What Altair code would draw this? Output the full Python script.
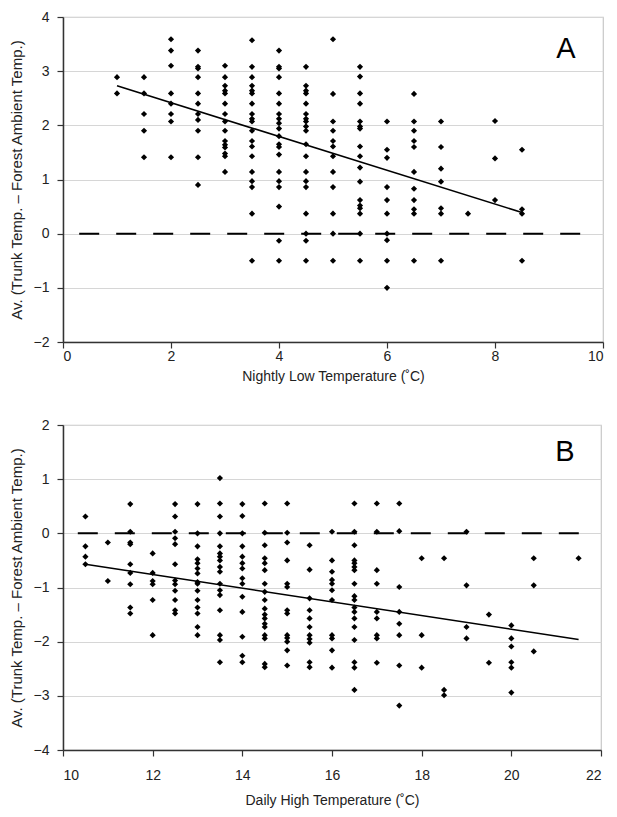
import altair as alt
import pandas as pd

# ---------------- Panel A data (x = nightly low temp, y = trunk - ambient) ----------------
a_cols = [1.0, 1.5, 2.0, 2.5, 3.0, 3.5, 4.0, 4.5, 5.0, 5.5, 6.0, 6.5, 7.0, 7.5, 8.0, 8.5]
a_vals = [
    [2.89, 2.59],
    [2.89, 2.59, 2.21, 1.9, 1.41],
    [3.59, 3.38, 3.1, 2.59, 2.4, 2.21, 2.07, 1.41],
    [3.38, 3.08, 3.05, 2.89, 2.59, 2.4, 2.21, 2.1, 1.9, 1.41, 0.9],
    [3.1, 2.89, 2.73, 2.64, 2.59, 2.4, 2.21, 2.07, 1.9, 1.71, 1.64, 1.59, 1.48, 1.43, 1.14],
    [3.57, 3.08, 2.89, 2.73, 2.64, 2.59, 2.4, 2.21, 2.12, 2.07, 1.9, 1.71, 1.61, 1.43, 1.14, 0.97, 0.86, 0.37, -0.5],
    [3.38, 3.08, 3.05, 2.89, 2.59, 2.4, 2.21, 2.12, 2.04, 1.94, 1.8, 1.65, 1.6, 1.46, 1.14, 0.97, 0.86, 0.5, -0.13, -0.5],
    [3.08, 2.73, 2.64, 2.59, 2.4, 2.21, 2.12, 2.07, 1.98, 1.9, 1.65, 1.43, 1.14, 0.97, 0.86, 0.37, 0.0, -0.13, -0.5],
    [3.59, 2.58, 2.07, 1.9, 1.71, 1.61, 1.43, 1.14, 0.86, 0.37, 0.0, -0.5],
    [3.08, 2.9, 2.59, 2.4, 2.07, 1.98, 1.94, 1.61, 1.43, 1.22, 0.96, 0.62, 0.52, 0.47, 0.37, 0.0, -0.5],
    [2.07, 1.55, 1.4, 0.86, 0.62, 0.37, 0.0, -0.12, -0.5, -1.0],
    [2.58, 2.07, 1.9, 1.71, 1.6, 1.14, 0.83, 0.62, 0.45, 0.37, -0.5],
    [2.07, 1.6, 1.2, 0.96, 0.47, 0.37, -0.5],
    [0.37],
    [2.08, 1.39, 0.62],
    [1.55, 0.45, 0.37, -0.5],
]
a_trend_x = [1.0, 8.5]
a_trend_y = [2.73, 0.39]
a_zero_x = [0.3, 9.65]
a_zero_y = [0.0, 0.0]

# ---------------- Panel B data (x = daily high temp) ----------------
b_cols = [10.5, 11.0, 11.5, 12.0, 12.5, 13.0, 13.5, 14.0, 14.5, 15.0, 15.5, 16.0, 16.5,
          17.0, 17.5, 18.0, 18.5, 19.0, 19.5, 20.0, 20.5, 21.5]
b_vals = [
    [0.31, -0.24, -0.43, -0.57],
    [-0.17, -0.88],
    [0.54, 0.03, -0.17, -0.2, -0.57, -0.73, -0.94, -1.37, -1.48],
    [-0.37, -0.73, -0.88, -0.94, -1.23, -1.88],
    [0.54, 0.31, 0.03, -0.09, -0.2, -0.57, -0.87, -0.94, -1.06, -1.23, -1.42, -1.48],
    [0.54, 0.0, -0.24, -0.48, -0.55, -0.65, -0.74, -0.9, -0.93, -1.06, -1.23, -1.37, -1.48, -1.73, -1.88],
    [1.02, 0.55, 0.31, 0.0, -0.24, -0.37, -0.43, -0.5, -0.62, -0.71, -0.93, -1.05, -1.14, -1.42, -1.88, -1.97, -2.38],
    [0.54, 0.32, 0.0, -0.24, -0.43, -0.55, -0.65, -0.83, -0.93, -1.17, -1.45, -1.91, -2.26, -2.38],
    [0.55, 0.01, -0.22, -0.46, -0.55, -0.68, -0.93, -1.08, -1.23, -1.39, -1.5, -1.57, -1.67, -1.73, -1.88, -1.94, -2.41, -2.47],
    [0.55, 0.01, -0.17, -0.5, -0.93, -0.99, -1.42, -1.48, -1.88, -1.93, -2.0, -2.16, -2.44],
    [-0.22, -0.67, -1.2, -1.42, -1.57, -1.73, -1.88, -1.95, -2.02, -2.38, -2.47],
    [0.03, -0.5, -0.71, -0.86, -0.93, -1.05, -1.23, -1.88, -1.94, -2.16, -2.48],
    [0.55, 0.03, -0.22, -0.5, -0.55, -0.62, -0.68, -0.93, -1.16, -1.23, -1.37, -1.45, -1.57, -1.73, -1.97, -2.38, -2.48, -2.89],
    [0.55, 0.03, -0.68, -0.93, -1.45, -1.57, -1.88, -1.94, -2.39],
    [0.55, 0.04, -0.99, -1.45, -1.67, -1.88, -2.44, -3.18],
    [-0.46, -1.88, -2.48],
    [-0.46, -2.89, -2.99],
    [0.03, -0.96, -1.73, -1.94],
    [-1.5, -2.39],
    [-1.7, -1.94, -2.09, -2.38, -2.48, -2.94],
    [-0.46, -0.96, -2.18],
    [-0.46],
]
b_trend_x = [10.5, 21.5]
b_trend_y = [-0.57, -1.96]
b_zero_x = [10.33, 21.63]
b_zero_y = [0.0, 0.0]

y_title = "Av. (Trunk Temp. \u2013 Forest Ambient Temp.)"
a_x_title = "Nightly Low Temperature (\u02daC)"
b_x_title = "Daily High Temperature (\u02daC)"
a_x_ticks = [0, 2, 4, 6, 8, 10]
a_y_ticks = [-2, -1, 0, 1, 2, 3, 4]
b_x_ticks = [10, 12, 14, 16, 18, 20, 22]
b_y_ticks = [-4, -3, -2, -1, 0, 1, 2]

FONT = "Liberation Sans"


def expand(cols, vals):
    xs, ys = [], []
    for c, vs in zip(cols, vals):
        for v in vs:
            xs.append(c)
            ys.append(v)
    return pd.DataFrame({"x": xs, "y": ys})


def panel(cols, vals, tx, ty, zx, zy, xdom, ydom, xticks, yticks, xtitle, letter,
          w, h, lx, ly, xlabpad, xtitlepad):
    pts = expand(cols, vals)
    xs = alt.Scale(domain=xdom, nice=False, zero=False)
    ys = alt.Scale(domain=ydom, nice=False, zero=False)
    xaxis = alt.Axis(values=xticks, grid=False, title=xtitle, format="d",
                     labelPadding=xlabpad, titlePadding=xtitlepad)
    yaxis = alt.Axis(values=yticks, grid=True, title=y_title, format="d")
    points = alt.Chart(pts).mark_point(shape="diamond", filled=True, color="black",
                                       size=38, opacity=1).encode(
        x=alt.X("x:Q", scale=xs, axis=xaxis),
        y=alt.Y("y:Q", scale=ys, axis=yaxis),
    )
    zero = alt.Chart(pd.DataFrame({"x": zx, "y": zy})).mark_line(
        color="black", strokeWidth=2, strokeDash=[20, 17]).encode(
        x=alt.X("x:Q", scale=xs), y=alt.Y("y:Q", scale=ys))
    trend = alt.Chart(pd.DataFrame({"x": tx, "y": ty})).mark_line(
        color="black", strokeWidth=1.6).encode(
        x=alt.X("x:Q", scale=xs), y=alt.Y("y:Q", scale=ys))
    label = alt.Chart(pd.DataFrame({"t": [letter]})).mark_text(
        font=FONT, fontSize=29, color="black", align="center", baseline="alphabetic").encode(
        text="t:N", x=alt.value(lx), y=alt.value(ly))
    return alt.layer(zero, trend, points, label).properties(width=w, height=h)


pa = panel(a_cols, a_vals, a_trend_x, a_trend_y, a_zero_x, a_zero_y, [0, 10], [-2, 4],
           a_x_ticks, a_y_ticks, a_x_title, "A", 540, 325, 503, 41, 1, 6)
pb = panel(b_cols, b_vals, b_trend_x, b_trend_y, b_zero_x, b_zero_y, [10, 22], [-4, 2],
           b_x_ticks, b_y_ticks, b_x_title, "B", 538, 325, 502, 36, 12, 11)

chart = alt.vconcat(pa, pb, spacing=33).properties(
    padding={"left": 0, "top": 1, "right": 4, "bottom": 4},
    background="white",
).configure_view(
    stroke="#c8c8c8", strokeWidth=1.2
).configure_axis(
    labelFont=FONT, titleFont=FONT, labelFontSize=14, titleFontSize=14,
    labelColor="#222222", titleColor="#222222", titleFontWeight="normal",
    domainColor="#333333", domainWidth=1.5, tickColor="#333333", tickWidth=1.2,
    tickSize=6, gridColor="#d6d6d6", gridWidth=1,
).configure_axisY(
    labelPadding=8, titlePadding=9, titleFontSize=15,
)

chart.save("out.html", embed_options={"renderer": "svg", "actions": False})
